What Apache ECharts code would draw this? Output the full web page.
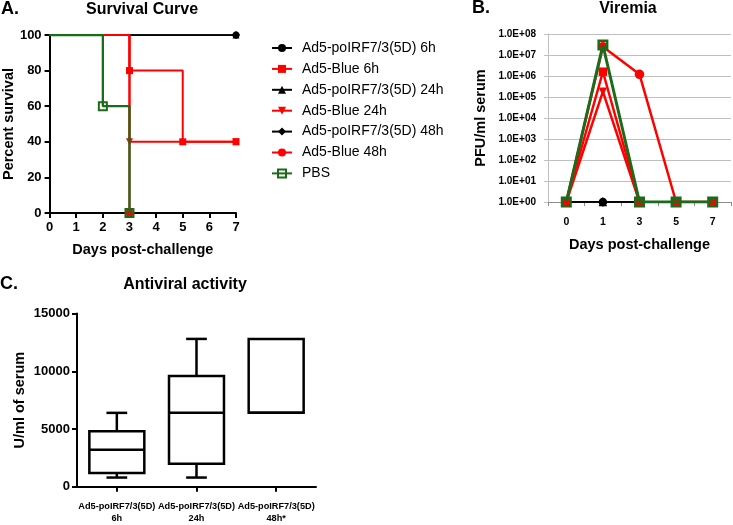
<!DOCTYPE html>
<html><head><meta charset="utf-8">
<script src="https://cdn.jsdelivr.net/npm/echarts@6/dist/echarts.min.js"></script>
<style>html,body{margin:0;padding:0;background:#fff}#c{width:733px;height:525px}</style>
</head><body><div id="c"></div>
<script>
const seriesNames = ['Ad5-poIRF7/3(5D) 6h','Ad5-Blue 6h','Ad5-poIRF7/3(5D) 24h','Ad5-Blue 24h','Ad5-poIRF7/3(5D) 48h','Ad5-Blue 48h','PBS'];

// Panel A: survival [day, percent]
const survIRF6h = [[0,100],[7,100]];
const survBlue6h = [[0,100],[3,80],[5,40],[7,40]];
const survIRF24h = [[0,100],[7,100]];
const survBlue24h = [[0,100],[3,40],[7,40]];
const survIRF48h = [[0,100],[7,100]];
const survBlue48h = [[0,100],[3,0]];
const survPBS = [[0,100],[2,60],[3,0]];

// Panel B: viremia (PFU/ml)
const viremiaDays = ['0','1','3','5','7'];
const viremiaIRF6h = [1,1,1,null,null];
const viremiaBlue6h = [1,1.6e6,1,null,null];
const viremiaIRF24h = [1,1,1,null,null];
const viremiaBlue24h = [1,1.8e5,1,null,null];
const viremiaIRF48h = [1,1,1,null,null];
const viremiaBlue48h = [1,2.5e7,1.2e6,1,1];
const viremiaPBS = [1,3e7,1,1,1];
const viremiaTickLabels = ['1.0E+00','1.0E+01','1.0E+02','1.0E+03','1.0E+04','1.0E+05','1.0E+06','1.0E+07','1.0E+08'];

// Panel C: antiviral activity (U/ml)
const boxCategories = ['Ad5-poIRF7/3(5D)\n6h','Ad5-poIRF7/3(5D)\n24h','Ad5-poIRF7/3(5D)\n48h*'];
const boxMin = [800,800,6400];
const boxQ1 = [1200,2000,6400];
const boxMedian = [3200,6400,6400];
const boxQ3 = [4800,9600,12800];
const boxMax = [6400,12800,12800];

const FONT = '"Liberation Sans", Arial, sans-serif';
const RED = '#ff0000', BLACK = '#000000', GREEN = '#1b6b1b';

const styles = [
  {color:BLACK, symbol:'circle', size:7, lw:1.5, z:2},
  {color:RED, symbol:'rect', size:7, lw:2, z:3},
  {color:BLACK, symbol:'triangle', size:7, lw:1.5, z:2},
  {color:RED, symbol:'path://M0,0L10,0L5,9Z', size:7, lw:2, z:3},
  {color:BLACK, symbol:'diamond', size:8, lw:1.5, z:2},
  {color:RED, symbol:'circle', size:8, lw:2, z:3},
  {color:GREEN, symbol:'rect', size:7, lw:2.3, z:4, open:true}
];

const survData = [survIRF6h, survBlue6h, survIRF24h, survBlue24h, survIRF48h, survBlue48h, survPBS];
const viremiaData = [viremiaIRF6h, viremiaBlue6h, viremiaIRF24h, viremiaBlue24h, viremiaIRF48h, viremiaBlue48h, viremiaPBS];

function itemStyleFor(s, bw){
  return s.open ? {color:'rgba(255,255,255,0)', borderColor:s.color, borderWidth:bw} : {color:s.color, borderColor:s.color, borderWidth:0};
}

const series = [];
survData.forEach((d,i)=>{
  const s = styles[i];
  series.push({
    name: seriesNames[i], type:'line', xAxisIndex:0, yAxisIndex:0,
    step:'end', z:s.z,
    data: d.map((p,k)=> k===0 ? {value:p, symbol:'none'} : {value:p}),
    symbol: s.symbol, symbolSize: s.open ? 8 : s.size,
    showAllSymbol:true,
    lineStyle:{color:s.color, width:s.lw},
    itemStyle: itemStyleFor(s, 2),
    emphasis:{disabled:true}, animation:false
  });
});
viremiaData.forEach((d,i)=>{
  const s = styles[i];
  series.push({
    name: seriesNames[i], type:'line', xAxisIndex:1, yAxisIndex:1,
    z:s.z, data:d,
    symbol: s.symbol, symbolSize: s.open ? 8.5 : s.size + 1.5,
    showAllSymbol:true,
    lineStyle:{color:s.color, width: s.open ? 3 : (s.color===RED ? 2.5 : 1.5)},
    itemStyle: itemStyleFor(s, 2.5),
    emphasis:{disabled:true}, animation:false
  });
});
series.push({
  type:'custom', xAxisIndex:2, yAxisIndex:2, animation:false,
  data: boxCategories.map((c,i)=>[i, boxMin[i], boxQ1[i], boxMedian[i], boxQ3[i], boxMax[i]]),
  encode:{x:0, y:[1,2,3,4,5]},
  renderItem(params, api){
    const i = api.value(0);
    const band = api.size([1,0])[0];
    const bw = band*0.69, cw = band*0.26;
    const cx = api.coord([i,0])[0];
    const y = k => api.coord([i, api.value(k)])[1];
    const yMin=y(1), yQ1=y(2), yMed=y(3), yQ3=y(4), yMax=y(5);
    const st = {stroke:'#000', lineWidth:2.5, fill:null};
    const ch = [
      {type:'rect', shape:{x:cx-bw/2, y:yQ3, width:bw, height:yQ1-yQ3}, style:{stroke:'#000', lineWidth:2.5, fill:'#fff'}},
      {type:'line', shape:{x1:cx-bw/2, y1:yMed, x2:cx+bw/2, y2:yMed}, style:st}
    ];
    if (Math.abs(yMax-yQ3)>0.5){
      ch.push({type:'line', shape:{x1:cx, y1:yQ3, x2:cx, y2:yMax}, style:st});
      ch.push({type:'line', shape:{x1:cx-cw/2, y1:yMax, x2:cx+cw/2, y2:yMax}, style:st});
    }
    if (Math.abs(yMin-yQ1)>0.5){
      ch.push({type:'line', shape:{x1:cx, y1:yQ1, x2:cx, y2:yMin}, style:st});
      ch.push({type:'line', shape:{x1:cx-cw/2, y1:yMin, x2:cx+cw/2, y2:yMin}, style:st});
    }
    return {type:'group', children:ch};
  }
});

const boldLbl = (size)=>({color:'#000', fontWeight:'bold', fontSize:size, fontFamily:FONT});
const blackLine = {show:true, lineStyle:{color:'#000', width:2}};
const blackTick = {show:true, length:5, lineStyle:{color:'#000', width:2}};
const txt = (x, y, text, size, align) => ({type:'text', x:x, y:y, style:{text:text, font:'bold '+size+'px '+FONT, fill:'#000', align:align, verticalAlign:'middle'}});

const option = {
  animation:false,
  textStyle:{fontFamily:FONT},
  legend:{
    data: seriesNames, orient:'vertical', left:266, top:36,
    itemWidth:20, itemHeight:10, itemGap:6.9,
    textStyle:{fontSize:14, color:'#000', fontFamily:FONT, padding:[0,0,0,5]},
    selectedMode:false
  },
  graphic:[
    txt(1, 9, 'A.', 18, 'left'),
    txt(142, 10, 'Survival Curve', 16, 'center'),
    txt(472, 8, 'B.', 18, 'left'),
    txt(628, 9, 'Viremia', 16, 'center'),
    txt(0, 284, 'C.', 18, 'left'),
    txt(185, 285, 'Antiviral activity', 16, 'center')
  ],
  grid:[
    {left:48, top:35, width:188, height:178},
    {left:548, top:34, width:183, height:168},
    {left:77, top:313.5, width:239, height:177}
  ],
  xAxis:[
    {type:'value', gridIndex:0, min:0, max:7, interval:1,
     name:'Days post-challenge', nameLocation:'middle', nameGap:29,
     nameTextStyle:boldLbl(14.5),
     axisLine:blackLine, axisTick:blackTick, splitLine:{show:false},
     axisLabel:Object.assign(boldLbl(13), {margin:8})},
    {type:'category', gridIndex:1, data:viremiaDays, boundaryGap:true,
     name:'Days post-challenge', nameLocation:'middle', nameGap:35,
     nameTextStyle:boldLbl(14.5),
     axisLine:{show:true, onZero:false, lineStyle:{color:'#8c8c8c', width:1}},
     axisTick:{show:true, length:4, lineStyle:{color:'#8c8c8c'}},
     axisLabel:Object.assign(boldLbl(10.5), {margin:15}), splitLine:{show:false}},
    {type:'category', gridIndex:2, data:boxCategories, boundaryGap:true,
     axisLine:blackLine, axisTick:Object.assign({}, blackTick, {alignWithLabel:true}),
     axisLabel:Object.assign(boldLbl(9.2), {margin:13, lineHeight:12.6, interval:0}), splitLine:{show:false}}
  ],
  yAxis:[
    {type:'value', gridIndex:0, min:0, max:100, interval:20,
     name:'Percent survival', nameLocation:'middle', nameGap:28, nameTextStyle:boldLbl(14.5),
     axisLine:blackLine, axisTick:blackTick, splitLine:{show:false},
     axisLabel:Object.assign(boldLbl(13), {margin:8})},
    {type:'log', gridIndex:1, logBase:10, min:1, max:1e8, splitNumber:8,
     name:'PFU/ml serum', nameLocation:'middle', nameGap:60, nameTextStyle:boldLbl(14.5),
     axisLine:{show:true, lineStyle:{color:'#bfbfbf', width:1}},
     axisTick:{show:true, length:4, lineStyle:{color:'#bfbfbf'}},
     splitLine:{show:true, lineStyle:{color:'#bfbfbf', width:1}},
     axisLabel:Object.assign(boldLbl(10), {margin:12, formatter:(v)=>viremiaTickLabels[Math.round(Math.log10(v))]})},
    {type:'value', gridIndex:2, min:0, max:15000, interval:5000,
     name:'U/ml of serum', nameLocation:'middle', nameGap:50, nameTextStyle:boldLbl(14.5),
     axisLine:blackLine, axisTick:blackTick, splitLine:{show:false},
     axisLabel:Object.assign(boldLbl(13), {margin:7, formatter:(v)=>String(v)})}
  ],
  series: series
};
const chart = echarts.init(document.getElementById('c'), null, {renderer:'canvas'});
chart.setOption(option);
</script>
</body></html>
